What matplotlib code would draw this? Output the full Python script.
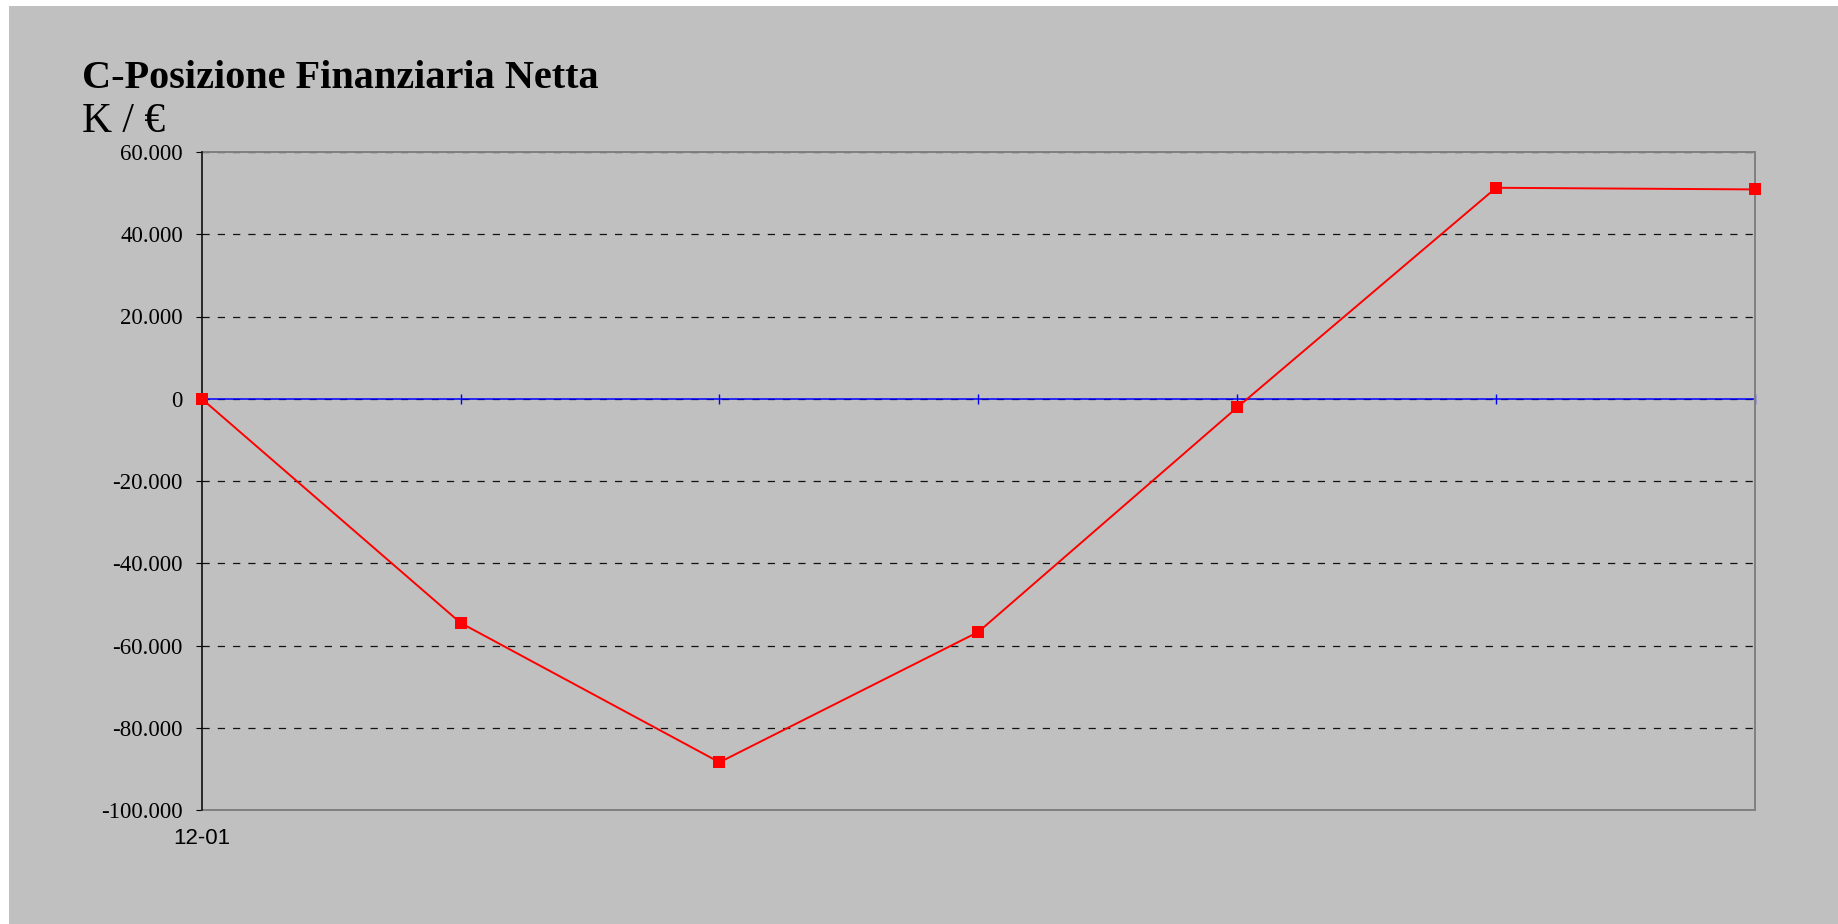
import matplotlib
matplotlib.use("Agg")
import matplotlib.pyplot as plt
from matplotlib.patches import Rectangle

# ---- data ----
categories = ['12-01', '', '', '', '', '', '']
pfn_values = [0, -54500, -88400, -56700, -2100, 51300, 50900]
y_ticks = [60000, 40000, 20000, 0, -20000, -40000, -60000, -80000, -100000]
y_tick_labels = ['60.000', '40.000', '20.000', '0', '-20.000', '-40.000',
                 '-60.000', '-80.000', '-100.000']
title_text = 'C-Posizione Finanziaria Netta'
unit_text = 'K / €'

plt.rcParams['lines.scale_dashes'] = False
W, H = 1838, 924
fig = plt.figure(figsize=(W / 100, H / 100), dpi=100, facecolor='white')

# gray chart area background
bg = Rectangle((9 / W, 0), 1 - 9 / W, (H - 6) / H,
               transform=fig.transFigure, facecolor='#C0C0C0',
               edgecolor='none', zorder=-10)
fig.add_artist(bg)

left, right, top, bottom = 201.7, 1755, 152, 810
ax = fig.add_axes([left / W, 1 - bottom / H, (right - left) / W, (bottom - top) / H])
ax.set_zorder(1)
ax.set_facecolor('#C0C0C0')

x = list(range(len(categories)))
ax.set_xlim(0, len(categories) - 1)
ax.set_ylim(-100000, 60000)

# gridlines
ax.set_yticks(y_ticks)
ax.set_yticklabels(y_tick_labels, family='Liberation Serif', fontsize=16.5)
ax.set_axisbelow(True)
ax.yaxis.grid(True, color='#111111', linewidth=0.9, dashes=(5.2, 5.8))
ax.tick_params(axis='y', direction='out', length=4.5, width=0.8, color='black', pad=9)

ax.set_xticks(x)
ax.set_xticklabels(categories, family='Liberation Sans', fontsize=16)
ax.tick_params(axis='x', length=0, pad=13)

# spines
for s in ['top', 'right', 'bottom']:
    ax.spines[s].set_color('#808080')
    ax.spines[s].set_linewidth(1.4)
ax.spines['left'].set_color('black')
ax.spines['left'].set_linewidth(1.1)
ax.spines['left'].set_zorder(3)

# blue category axis at zero with crossing ticks
ax.axhline(0, color='#0000FF', linewidth=1.1, zorder=2)
ax.plot(x, [0] * len(x), linestyle='none', marker='|', markersize=7.5,
        markeredgewidth=1.0, color='#0000FF', zorder=2, clip_on=False)

# series
ax.plot(x, pfn_values, color='#FF0000', linewidth=1.4, marker='s',
        markersize=8.8, markeredgewidth=0, zorder=4, clip_on=False)

# titles
fig.text(82 / W, 1 - 87.5 / H, title_text, family='Liberation Serif',
         fontweight='bold', fontsize=29, va='baseline', ha='left')
fig.text(82 / W, 1 - 132.5 / H, unit_text, family='Liberation Serif',
         fontsize=30, va='baseline', ha='left')

fig.savefig('out.png', dpi=100, facecolor='white')
